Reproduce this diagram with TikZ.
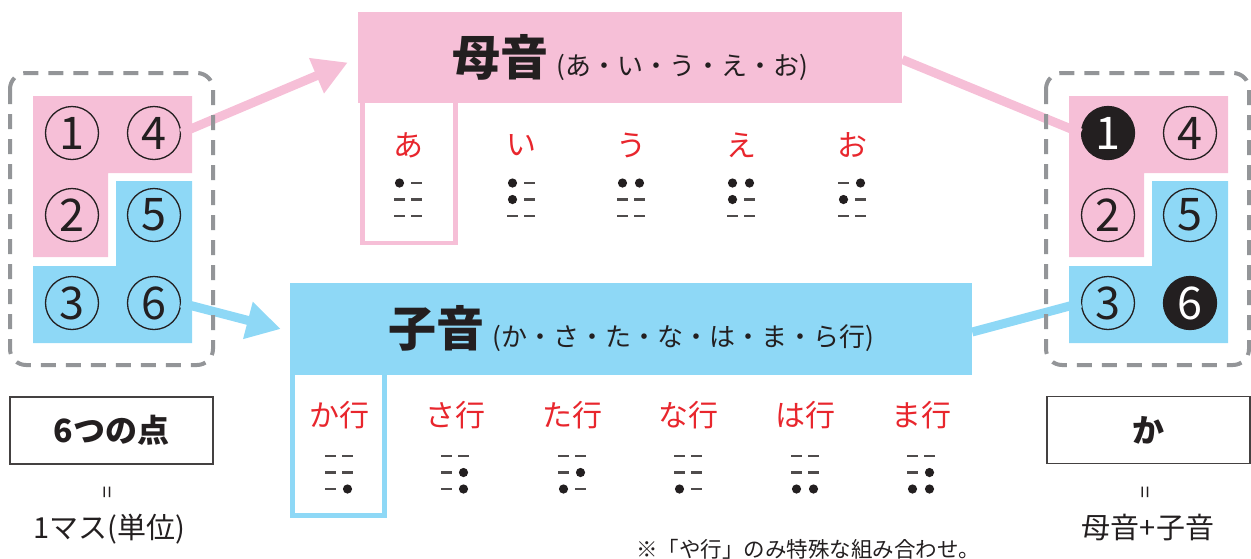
\documentclass[tikz,border=0pt]{standalone}
\usepackage{fontspec}
\setmainfont{Noto Sans CJK JP}
\usepackage{tikz}
\usetikzlibrary{shapes, arrows.meta}
\definecolor{vpink}{HTML}{F6BFD7}
\definecolor{cblue}{HTML}{8ED8F6}
\definecolor{dashgray}{HTML}{939598}
\definecolor{kanared}{HTML}{E8262D}
\definecolor{inkblack}{HTML}{231F20}
\newcommand{\fsz}[1]{\fontsize{#1}{#1}\selectfont}
\tikzstyle{header} = [rectangle, inner sep=0pt, text=inkblack]
\tikzstyle{kana} = [text=kanared, font=\fsz{30}, inner sep=0pt]
\tikzstyle{dotnum} = [circle, draw=inkblack, line width=1.3pt, minimum size=53pt,
    inner sep=0pt, font=\fsz{45}, text=inkblack]
\tikzstyle{dotset} = [dotnum, fill=inkblack, text=white]
\tikzstyle{cellbox} = [draw=dashgray, line width=4pt, dash pattern=on 15pt off 10pt,
    rounded corners=16pt]
\tikzstyle{labelbox} = [rectangle, draw=inkblack!85, line width=1.4pt, minimum width=203pt,
    minimum height=67pt, font=\fsz{32}\bfseries, text=inkblack]
\tikzstyle{note} = [inner sep=0pt, text=inkblack]
\tikzstyle{pinkline} = [draw=vpink, line width=9pt]
\tikzstyle{blueline} = [draw=cblue, line width=9pt]
\tikzstyle{bigtip} = [-{Triangle[length=34pt,width=36pt]}]
% one braille mark: dot or dash
\newcommand{\brlmark}[3]{%
  \ifnum#3=1 \fill[inkblack] ({#1},{#2}) circle (4.6pt);%
  \else \draw[inkblack!80, line width=2.2pt] ({#1-5.5},{#2}) -- ({#1+5.5},{#2});\fi}
% braille cell: x, y of top row, dots 1..6
\newcommand{\brl}[8]{%
  \brlmark{#1-8.5}{#2}{#3}\brlmark{#1-8.5}{#2+16.5}{#4}\brlmark{#1-8.5}{#2+33}{#5}%
  \brlmark{#1+8.5}{#2}{#6}\brlmark{#1+8.5}{#2+16.5}{#7}\brlmark{#1+8.5}{#2+33}{#8}}

\begin{document}
\begin{tikzpicture}[x=1pt, y=-1pt]
        \useasboundingbox (0,0) rectangle (1251,558);
        % Cell blocks
        \fill [vpink] (33,96) -- (192,96) -- (192,173) -- (108,173) -- (108,257) -- (33,257) -- cycle;
        \fill [cblue] (116,181) -- (192,181) -- (192,343) -- (33,343) -- (33,266) -- (116,266) -- cycle;
        \fill [vpink] (1069,96) -- (1228,96) -- (1228,173) -- (1144,173) -- (1144,257) -- (1069,257) -- cycle;
        \fill [cblue] (1152,181) -- (1228,181) -- (1228,343) -- (1069,343) -- (1069,266) -- (1152,266) -- cycle;
        % Headers
        \node [header, fill=vpink, minimum width=544pt, minimum height=91pt] (vowel) at (630,57.5)
            {{\fsz{48}\bfseries 母音}\hspace{8pt}{\fsz{26}(あ・い・う・え・お)}};
        \node [header, fill=cblue, minimum width=682pt, minimum height=92pt] (cons) at (631,329)
            {{\fsz{48}\bfseries 子音}\hspace{8pt}{\fsz{26}(か・さ・た・な・は・ま・ら行)}};
        \draw [draw=vpink, line width=4.5pt] (362.5,103) -- (362.5,243) -- (455.5,243) -- (455.5,103);
        \draw [draw=cblue, line width=4.5pt] (292.5,375) -- (292.5,515.5) -- (384.5,515.5) -- (384.5,375);
        % Place nodes
        \node [dotnum] (L1) at (72,133) {1};
        \node [dotnum] (L4) at (154,133) {4};
        \node [dotnum] (L2) at (72,215) {2};
        \node [dotnum] (L5) at (154,215) {5};
        \node [dotnum] (L3) at (72,303) {3};
        \node [dotnum] (L6) at (154,303) {6};
        \node [dotset] (R1) at (1108,133) {1};
        \node [dotnum] (R4) at (1190,133) {4};
        \node [dotnum] (R2) at (1108,215) {2};
        \node [dotnum] (R5) at (1190,215) {5};
        \node [dotnum] (R3) at (1108,303) {3};
        \node [dotset] (R6) at (1190,303) {6};
        % Vowels
        \node [kana] (a) at (408,145) {あ};
        \node [kana] (i) at (521,145) {い};
        \node [kana] (u) at (631,145) {う};
        \node [kana] (e) at (741,145) {え};
        \node [kana] (o) at (852,145) {お};
        \brl{408}{183}{1}{0}{0}{0}{0}{0}
        \brl{521}{183}{1}{1}{0}{0}{0}{0}
        \brl{631}{183}{1}{0}{0}{1}{0}{0}
        \brl{741}{183}{1}{1}{0}{1}{0}{0}
        \brl{852}{183}{0}{1}{0}{1}{0}{0}
        % Consonants
        \node [kana] (ka) at (339,415) {か行};
        \node [kana] (sa) at (455,415) {さ行};
        \node [kana] (ta) at (572,415) {た行};
        \node [kana] (na) at (688,415) {な行};
        \node [kana] (ha) at (805,415) {は行};
        \node [kana] (ma) at (921,415) {ま行};
        \brl{339}{456}{0}{0}{0}{0}{0}{1}
        \brl{455}{456}{0}{0}{0}{0}{1}{1}
        \brl{572}{456}{0}{0}{1}{0}{1}{0}
        \brl{688}{456}{0}{0}{1}{0}{0}{0}
        \brl{805}{456}{0}{0}{1}{0}{0}{1}
        \brl{921}{456}{0}{0}{1}{0}{1}{1}
        % Bottom labels
        \node [labelbox] (six) at (111.5,430.5) {6つの点};
        \node [note, rotate=90, font=\fsz{22}] (eqleft) at (110,492) {=};
        \node [note, font=\fsz{29}] (unit) at (109,529) {1マス(単位)};
        \node [labelbox] (kabox) at (1148.5,430) {か};
        \node [note, rotate=90, font=\fsz{22}] (eqright) at (1148,492) {=};
        \node [note, font=\fsz{29}] (sum) at (1148,528) {母音+子音};
        \node [note, font=\fsz{21.5}] (footnote) at (808,549) {※「や行」のみ特殊な組み合わせ。};
        % Draw edges
        \path [pinkline, bigtip] (L4.east) -- ([xshift=-10pt, yshift=-5pt]vowel.west);
        \path [blueline, bigtip] (L6.east) -- ([xshift=-9pt]cons.west);
        \path [pinkline] ([yshift=-2pt]vowel.east) -- (R1.west);
        \path [blueline] ([yshift=-3pt]cons.east) -- (R3.west);
        % Dashed cells
        \draw [cellbox] (10,73) rectangle (213,365);
        \draw [cellbox] (1046,73) rectangle (1249,365);
\end{tikzpicture}
\end{document}
